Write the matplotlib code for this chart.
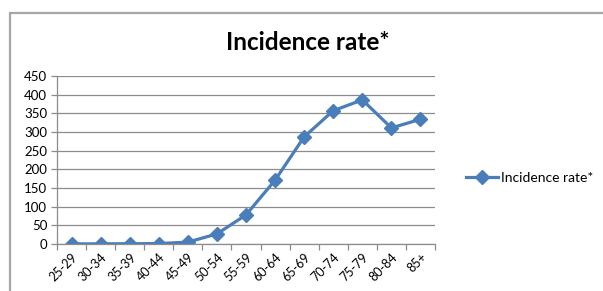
import matplotlib
matplotlib.use("Agg")
import matplotlib.pyplot as plt
from matplotlib.lines import Line2D
from matplotlib.patches import Rectangle

categories = ["25-29", "30-34", "35-39", "40-44", "45-49", "50-54", "55-59",
              "60-64", "65-69", "70-74", "75-79", "80-84", "85+"]
incidence = [0.3, 0.5, 0.8, 1.2, 5, 27, 78, 171, 287, 357, 386, 311, 334]
y_ticks = [0, 50, 100, 150, 200, 250, 300, 350, 400, 450]
series_name = "Incidence rate*"
title = "Incidence rate*"

W, H = 603, 291
fig = plt.figure(figsize=(W / 100, H / 100), dpi=100)
plt.rcParams['font.family'] = ['Lato', 'DejaVu Sans']

# outer border
fig.patches.append(Rectangle((10 / W, -0.1), 1.2, (H - 13) / H + 0.1,
                             transform=fig.transFigure, fill=False,
                             edgecolor="#a6a6a6", linewidth=1.6))

ax = fig.add_axes([57 / W, (H - 244) / H, (435 - 57) / W, (244 - 76) / H])
color = "#4a7ebb"
x = list(range(len(categories)))
ax.plot(x, incidence, color=color, linewidth=2.3, marker="D", markersize=7,
        markeredgecolor=color, markerfacecolor=color, label=series_name)

ax.set_xlim(-0.5, len(categories) - 0.5)
ax.set_ylim(0, 450)
ax.set_yticks(y_ticks)
ax.set_yticklabels([str(v) for v in y_ticks], fontsize=9.5)
ax.yaxis.grid(True, color="#8c8c8c", linewidth=0.9)
ax.set_axisbelow(True)

ax.set_xticks(x)
ax.set_xticklabels(categories, rotation=45, fontsize=9, ha="right",
                   rotation_mode="anchor")
ax.tick_params(axis="x", length=0, pad=5)
ax.set_xticks([i - 0.5 for i in range(len(categories) + 1)], minor=True)
ax.tick_params(axis="x", which="minor", length=4, color="#8c8c8c", width=0.9)
ax.tick_params(axis="y", length=4, color="#8c8c8c", width=0.9, pad=3)

for s in ["top", "right"]:
    ax.spines[s].set_visible(False)
for s in ["left", "bottom"]:
    ax.spines[s].set_color("#8c8c8c")
    ax.spines[s].set_linewidth(0.9)

fig.text(308 / W, 1 - 43 / H, title, ha="center", va="center",
         fontsize=17.5, fontweight="bold")

handle = Line2D([0], [0], color=color, linewidth=2.3, marker="D",
                markersize=7, markerfacecolor=color, markeredgecolor=color)
fig.legend([handle], [series_name], loc="center left",
           bbox_to_anchor=(459 / W, 1 - 178 / H), frameon=False,
           fontsize=10, handlelength=2.3, handletextpad=0.2, borderpad=0)

fig.savefig("out.png", dpi=100)
